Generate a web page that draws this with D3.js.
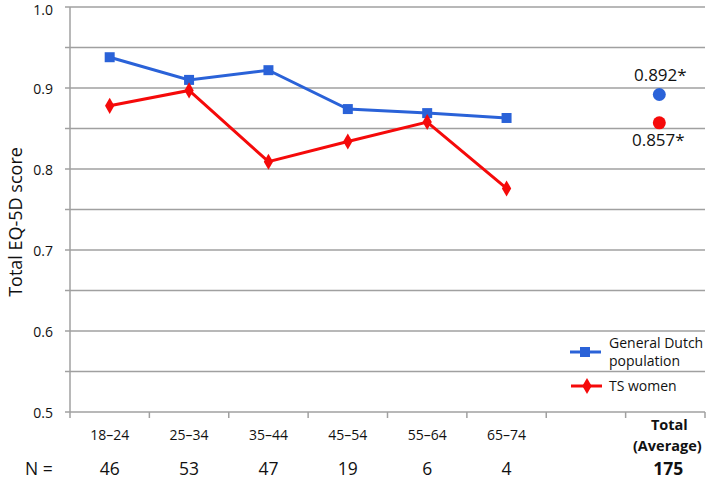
<!DOCTYPE html>
<html>
<head>
<meta charset="utf-8">
<script src="https://cdn.jsdelivr.net/npm/d3@7"></script>
<style>
  body { margin: 0; background: #fff; }
  svg { font-family: "Open Sans", sans-serif; }
</style>
</head>
<body>
<svg id="chart_svg" width="709" height="482"></svg>
<script>
// chart data
const categories = ["18–24", "25–34", "35–44", "45–54", "55–64", "65–74", "", "Total"];
const ageGroups = ["18–24", "25–34", "35–44", "45–54", "55–64", "65–74"];
const dutchValues = [0.938, 0.910, 0.922, 0.874, 0.869, 0.863];
const tsValues = [0.878, 0.897, 0.809, 0.834, 0.858, 0.776];
const totalDutch = 0.892;
const totalTs = 0.857;
const nValues = ["46", "53", "47", "19", "6", "4", "", "175"];
const yTicks = [0.5, 0.6, 0.7, 0.8, 0.9, 1.0];
const gridValues = [0.5, 0.55, 0.6, 0.65, 0.7, 0.75, 0.8, 0.85, 0.9, 0.95, 1.0];

const blue = "#2a62d8";
const red = "#f50a0a";
const grid = "#a0a0a0";
const ink = "#111";

const svg = d3.select("#chart_svg");
const margin = { top: 7, left: 70, right: 4, bottom: 70 };
const width = 709, height = 482;

const xScale = d3.scaleBand()
  .domain(categories)
  .range([margin.left, width - margin.right])
  .padding(0);

const yScale = d3.scaleLinear()
  .domain([0.5, 1.0])
  .range([412, margin.top]);

const cx = d => xScale(d) + xScale.bandwidth() / 2;

// gridlines
svg.append("g")
  .selectAll("line")
  .data(gridValues)
  .enter()
  .append("line")
  .attr("x1", margin.left)
  .attr("x2", width - margin.right)
  .attr("y1", d => yScale(d))
  .attr("y2", d => yScale(d))
  .attr("stroke", grid)
  .attr("stroke-width", 1.5);

// y axis line + labels
svg.append("line")
  .attr("x1", margin.left).attr("x2", margin.left)
  .attr("y1", yScale(1.0)).attr("y2", yScale(0.5))
  .attr("stroke", grid).attr("stroke-width", 1.5);

svg.append("g")
  .selectAll("text")
  .data(yTicks)
  .enter()
  .append("text")
  .attr("x", 53)
  .attr("y", d => Math.max(yScale(d) + 5.5, 15))
  .attr("text-anchor", "end")
  .attr("font-size", 14)
  .attr("fill", ink)
  .text(d => d.toFixed(1));

// small ticks on y axis
svg.append("g")
  .selectAll("line")
  .data(gridValues)
  .enter()
  .append("line")
  .attr("x1", margin.left - 5).attr("x2", margin.left)
  .attr("y1", d => yScale(d)).attr("y2", d => yScale(d))
  .attr("stroke", grid).attr("stroke-width", 1.5);

// x ticks at band boundaries
const boundaries = categories.map(c => xScale(c)).concat([width - margin.right]);
svg.append("g")
  .selectAll("line")
  .data(boundaries)
  .enter()
  .append("line")
  .attr("x1", d => d).attr("x2", d => d)
  .attr("y1", yScale(0.5)).attr("y2", yScale(0.5) + 6)
  .attr("stroke", grid).attr("stroke-width", 1.5);

// category labels
svg.append("g")
  .selectAll("text")
  .data(ageGroups)
  .enter()
  .append("text")
  .attr("x", d => cx(d))
  .attr("y", 440)
  .attr("text-anchor", "middle")
  .attr("font-size", 14)
  .attr("fill", ink)
  .text(d => d);

svg.append("text")
  .attr("x", cx("Total") + 4).attr("y", 430)
  .attr("text-anchor", "middle").attr("font-size", 14.5).attr("font-weight", "bold")
  .attr("fill", ink).text("Total");
svg.append("text")
  .attr("x", cx("Total") + 2).attr("y", 451)
  .attr("text-anchor", "middle").attr("font-size", 14.5).attr("font-weight", "bold")
  .attr("fill", ink).text("(Average)");

// N row
svg.append("text")
  .attr("x", 25).attr("y", 475)
  .attr("font-size", 17.5).attr("fill", ink).text("N =");

svg.append("g")
  .selectAll("text")
  .data(categories)
  .enter()
  .append("text")
  .attr("x", d => cx(d) + (d === "Total" ? 3 : 0))
  .attr("y", 475)
  .attr("text-anchor", "middle")
  .attr("font-size", 17.5)
  .attr("font-weight", d => d === "Total" ? "bold" : "normal")
  .attr("fill", ink)
  .text((d, i) => nValues[i]);

// y axis title
svg.append("text")
  .attr("transform", "translate(22,222) rotate(-90)")
  .attr("text-anchor", "middle")
  .attr("font-size", 18)
  .attr("fill", ink)
  .text("Total EQ-5D score");

// lines
const line = d3.line()
  .x((d, i) => cx(ageGroups[i]))
  .y(d => yScale(d));

svg.append("path")
  .datum(dutchValues)
  .attr("d", line)
  .attr("fill", "none")
  .attr("stroke", blue)
  .attr("stroke-width", 3);

svg.append("path")
  .datum(tsValues)
  .attr("d", line)
  .attr("fill", "none")
  .attr("stroke", red)
  .attr("stroke-width", 3);

const squareSym = d3.symbol().type(d3.symbolSquare).size(100);
const diamondSym = d3.symbol().type(d3.symbolDiamond).size(75);

svg.append("g")
  .selectAll("path")
  .data(dutchValues)
  .enter()
  .append("path")
  .attr("d", squareSym)
  .attr("transform", (d, i) => "translate(" + cx(ageGroups[i]) + "," + yScale(d) + ")")
  .attr("fill", blue);

svg.append("g")
  .selectAll("path")
  .data(tsValues)
  .enter()
  .append("path")
  .attr("d", diamondSym)
  .attr("transform", (d, i) => "translate(" + cx(ageGroups[i]) + "," + yScale(d) + ")")
  .attr("fill", red);

// total averages
const totalX = cx("Total") - 6;
svg.append("circle")
  .attr("cx", totalX).attr("cy", yScale(totalDutch)).attr("r", 6.5).attr("fill", blue);
svg.append("circle")
  .attr("cx", totalX).attr("cy", yScale(totalTs)).attr("r", 6.5).attr("fill", red);

svg.append("text")
  .attr("x", totalX + 1).attr("y", yScale(totalDutch) - 13)
  .attr("text-anchor", "middle").attr("font-size", 17).attr("fill", ink)
  .text(totalDutch.toFixed(3) + "*");
svg.append("text")
  .attr("x", totalX - 1).attr("y", yScale(totalTs) + 23)
  .attr("text-anchor", "middle").attr("font-size", 17).attr("fill", ink)
  .text(totalTs.toFixed(3) + "*");

// legend
const legend = svg.append("g");
legend.append("rect")
  .attr("x", 566).attr("y", 342).attr("width", 139).attr("height", 26).attr("fill", "#fff");
legend.append("rect")
  .attr("x", 566).attr("y", 374).attr("width", 139).attr("height", 24).attr("fill", "#fff");

legend.append("line")
  .attr("x1", 570).attr("x2", 601).attr("y1", 352).attr("y2", 352)
  .attr("stroke", blue).attr("stroke-width", 3);
legend.append("path")
  .attr("d", squareSym)
  .attr("transform", "translate(585,352)")
  .attr("fill", blue);
legend.append("text")
  .attr("x", 609).attr("y", 348).attr("font-size", 14).attr("fill", ink).text("General Dutch");
legend.append("text")
  .attr("x", 609).attr("y", 366).attr("font-size", 14).attr("fill", ink).text("population");

legend.append("line")
  .attr("x1", 571).attr("x2", 602).attr("y1", 386).attr("y2", 386)
  .attr("stroke", red).attr("stroke-width", 3);
legend.append("path")
  .attr("d", diamondSym)
  .attr("transform", "translate(587,386)")
  .attr("fill", red);
legend.append("text")
  .attr("x", 609).attr("y", 391).attr("font-size", 14).attr("fill", ink).text("TS women");
</script>
</body>
</html>
